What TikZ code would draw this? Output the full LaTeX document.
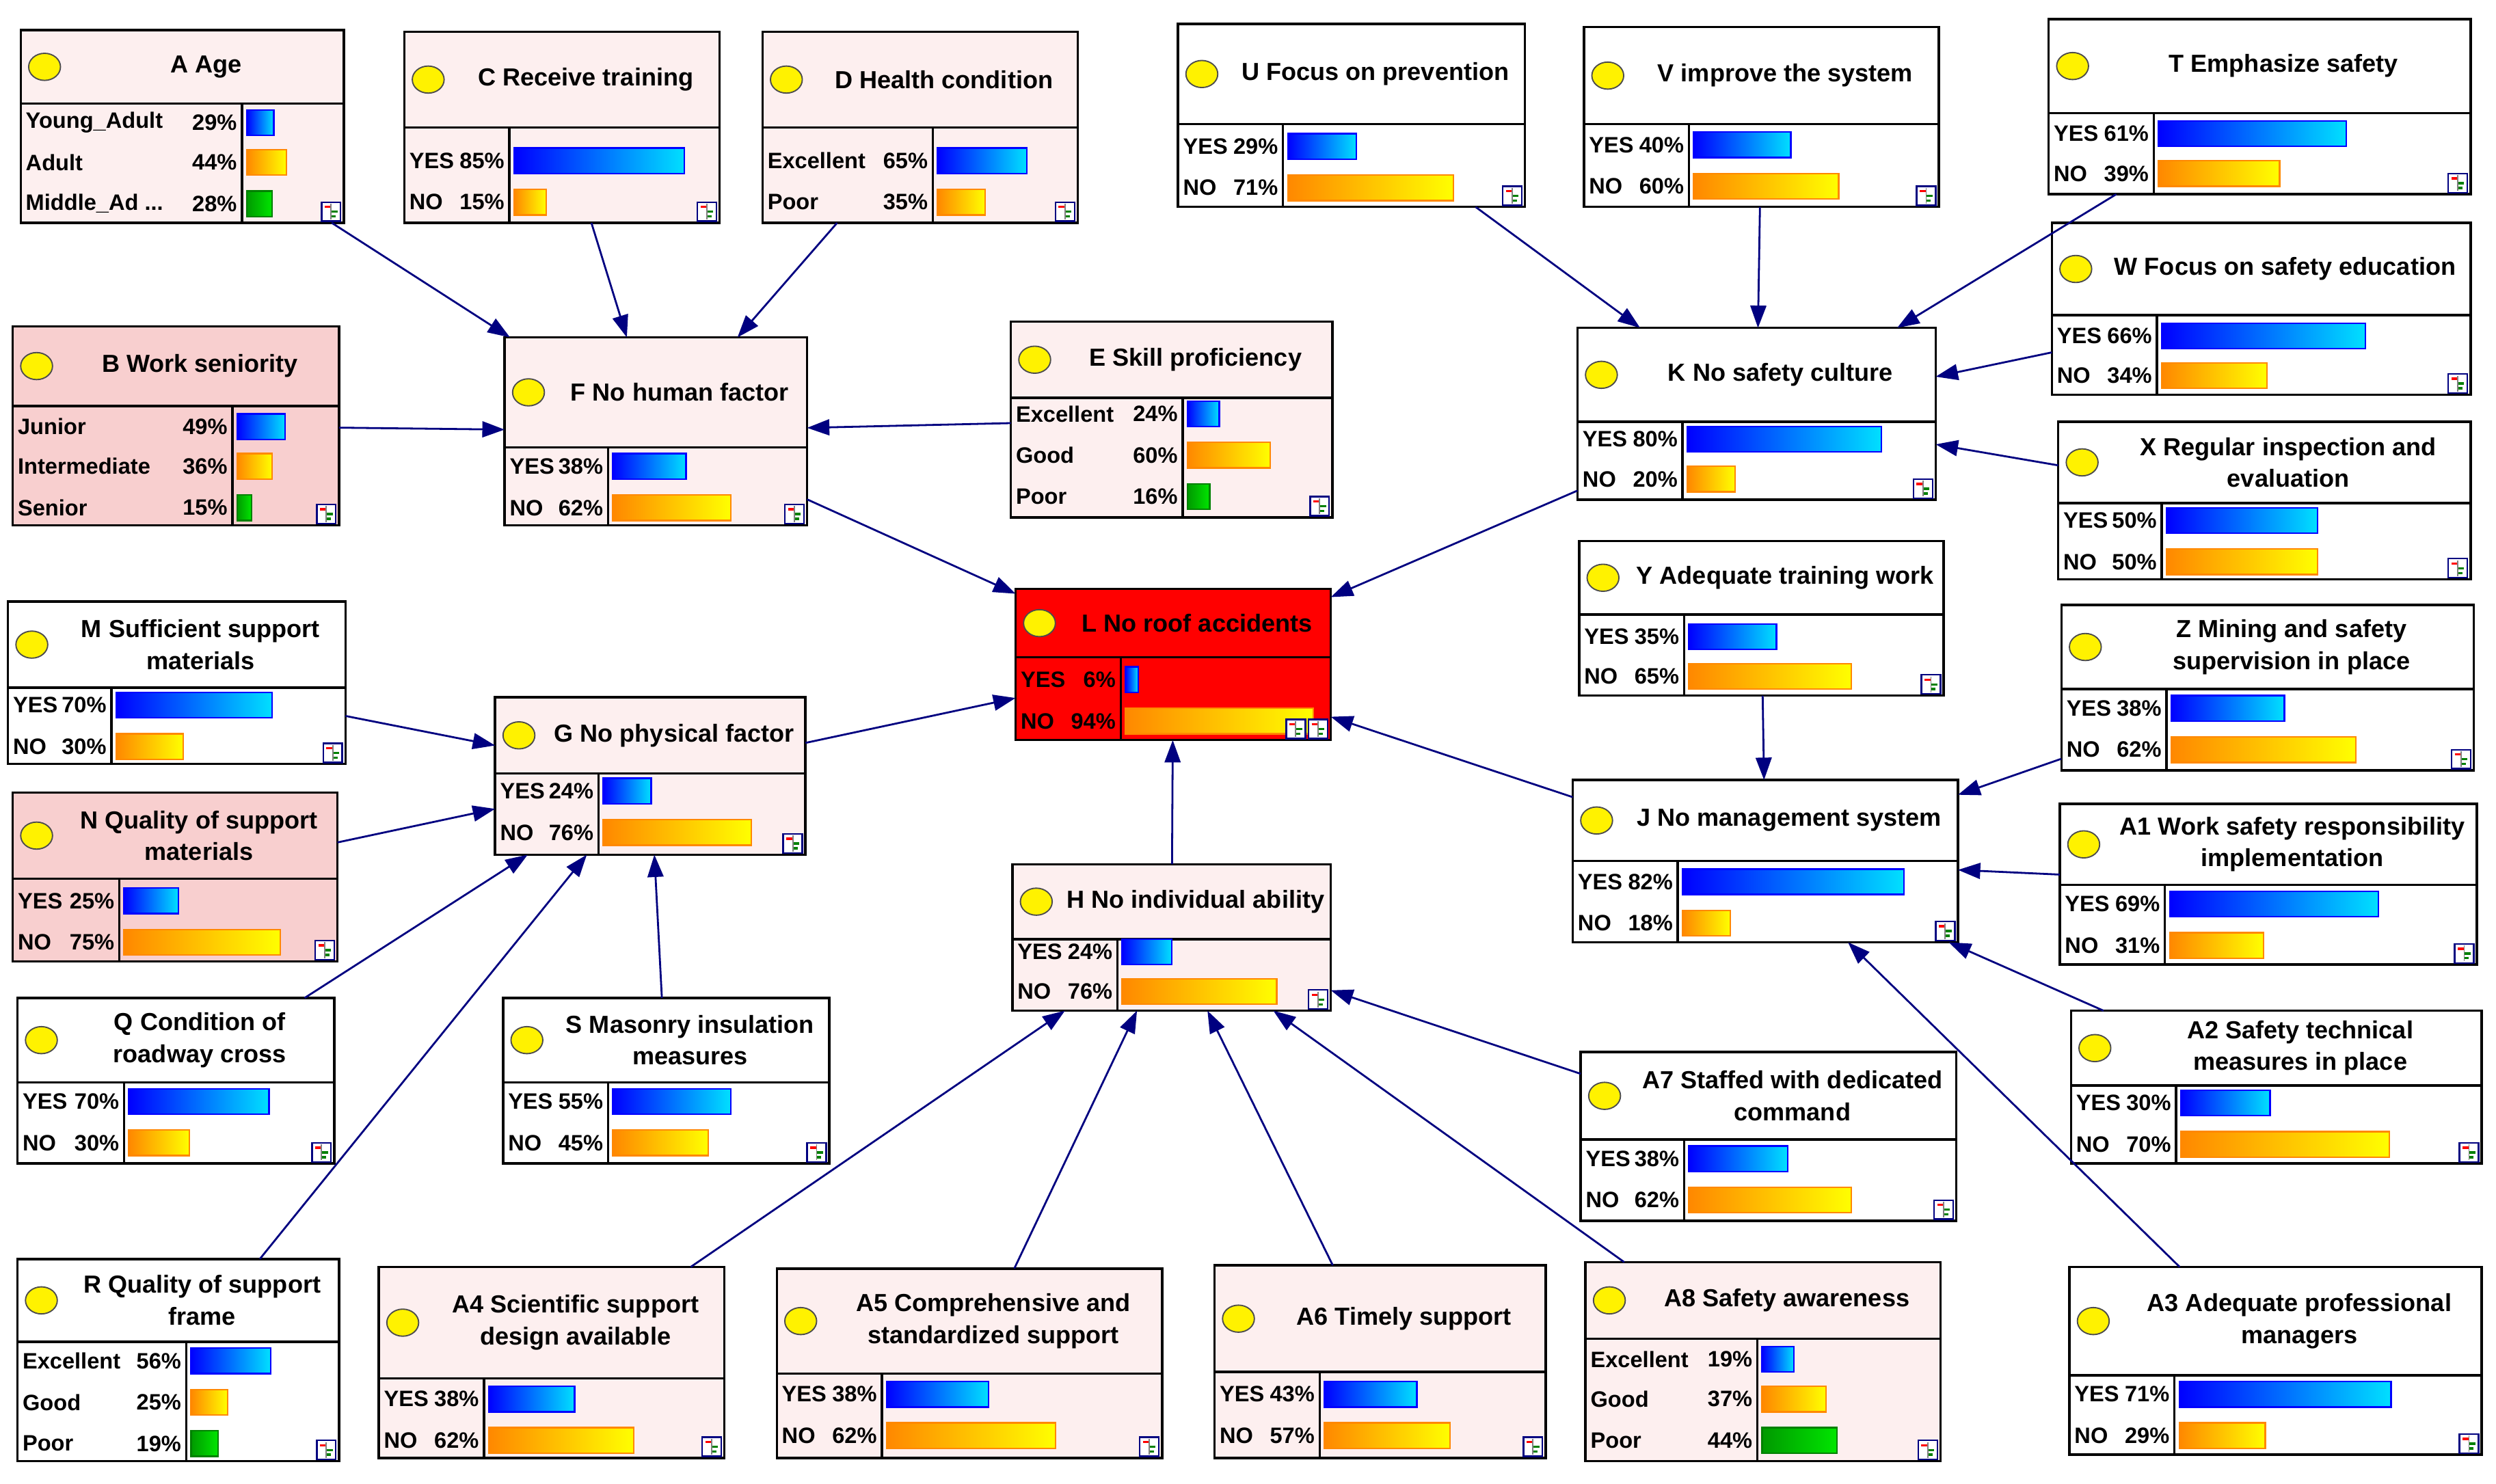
\documentclass[tikz,border=0pt]{standalone}
\usepackage{fontspec}
\setmainfont{Liberation Sans}
\usetikzlibrary{arrows.meta,shapes.geometric}
\definecolor{pinkbg}{HTML}{FDEFEF}
\definecolor{pinkdk}{HTML}{F8CFCF}
\definecolor{navy}{HTML}{000080}
\definecolor{cyanb}{HTML}{00E0FF}
\definecolor{orng}{HTML}{FF8800}
\tikzset{
 box/.style={draw=black,line width=1.5pt,inner sep=0,outer sep=0},
 circ/.style={draw=black!70,fill=yellow,ellipse,minimum width=20pt,minimum height=17pt,inner sep=0,line width=0.8pt},
 ttl/.style={font=\fontsize{15.5}{20}\selectfont\bfseries,align=center,inner sep=0},
 rl/.style={font=\fontsize{14}{17}\selectfont\bfseries,inner sep=0},
 bb/.style={draw=blue,line width=1pt,left color=blue,right color=cyanb},
 bo/.style={draw=orng,line width=1pt,left color=orng,right color=yellow},
 bg/.style={draw=green!50!black,line width=1pt,left color=green!60!black,right color=green!90!black},
 edge/.style={draw=navy,line width=1.2pt,-{Triangle[length=14pt,width=10pt]}},
}
\newcommand\bnbox[8]{%
 \node[box,fill=#8,minimum width={(#4-#2)*1pt},minimum height={(#5-#3)*1pt},anchor=north west] (#1) at (#2,#3) {};
 \draw[line width=1.5pt] (#2,#6) -- (#4,#6);
 \node[circ] at ({#2+15},{(#3+#6)/2}) {};
 \node[ttl] at ({(#2+30+#4)/2},{(#3+#6)/2}) {#7};
 \bnicon{#4}{#5}%
}
\newcommand\bnicon[2]{%
 \draw[navy,fill=white,line width=1pt] ({#1-14},{#2-13}) rectangle ({#1-2},{#2-1});
 \draw[red,line width=1.5pt] ({#1-12},{#2-10}) -- ({#1-8},{#2-10});
 \draw[green!50!black,line width=1.5pt] ({#1-8},{#2-7}) -- ({#1-4},{#2-7}) ({#1-8},{#2-4}) -- ({#1-5},{#2-4});
 \draw[gray,line width=0.8pt] ({#1-8},{#2-12}) -- ({#1-8},{#2-2});
}
\newcommand\bndiv[4]{\draw[line width=1.5pt] ({#1-3},#2) -- ({#1-3},#3);}
\newcommand\bnrow[7]{%
 \node[rl,anchor=west] at ({#1+3},#3) {#4};
 \node[rl,anchor=east] at ({#2-6},#3) {#5};
 \draw[#7] (#2,{#3-8}) rectangle ++(#6,16);
}
\begin{document}
\begin{tikzpicture}[x=1pt,y=-1pt]
\useasboundingbox[fill=white] (0,0) rectangle (1568,932);
% A
\bnbox{A}{13}{19}{216}{140}{65}{A Age}{pinkbg}
\bndiv{155}{65}{140}{}
\bnrow{13}{155}{77}{Young\_Adult}{29\%}{17}{bb}
\bnrow{13}{155}{102}{Adult}{44\%}{25}{bo}
\bnrow{13}{155}{128}{Middle\_Ad ...}{28\%}{16}{bg}
% C
\bnbox{C}{254}{20}{452}{140}{80}{C Receive training}{pinkbg}
\bndiv{323}{80}{140}{}
\bnrow{254}{323}{101}{YES}{85\%}{107}{bb}
\bnrow{254}{323}{127}{NO}{15\%}{20}{bo}
% D
\bnbox{D}{479}{20}{677}{140}{80}{D Health condition}{pinkbg}
\bndiv{589}{80}{140}{}
\bnrow{479}{589}{101}{Excellent}{65\%}{56}{bb}
\bnrow{479}{589}{127}{Poor}{35\%}{30}{bo}
% U
\bnbox{U}{740}{15}{958}{130}{78}{U Focus on prevention}{white}
\bndiv{809}{78}{130}{}
\bnrow{740}{809}{92}{YES}{29\%}{43}{bb}
\bnrow{740}{809}{118}{NO}{71\%}{104}{bo}
% V
\bnbox{V}{995}{17}{1218}{130}{78}{V improve the system}{white}
\bndiv{1064}{78}{130}{}
\bnrow{995}{1064}{91}{YES}{40\%}{61}{bb}
\bnrow{995}{1064}{117}{NO}{60\%}{91}{bo}
% T
\bnbox{T}{1287}{12}{1552}{122}{71}{T Emphasize safety}{white}
\bndiv{1356}{71}{122}{}
\bnrow{1287}{1356}{84}{YES}{61\%}{118}{bb}
\bnrow{1287}{1356}{109}{NO}{39\%}{76}{bo}
% B
\bnbox{B}{8}{205}{213}{330}{255}{B Work seniority}{pinkdk}
\bndiv{149}{255}{330}{}
\bnrow{8}{149}{268}{Junior}{49\%}{30}{bb}
\bnrow{8}{149}{293}{Intermediate}{36\%}{22}{bo}
\bnrow{8}{149}{319}{Senior}{15\%}{9}{bg}
% F
\bnbox{F}{317}{212}{507}{330}{281}{F No human factor}{pinkbg}
\bndiv{385}{281}{330}{}
\bnrow{317}{385}{293}{YES}{38\%}{46}{bb}
\bnrow{317}{385}{319}{NO}{62\%}{74}{bo}
% E
\bnbox{E}{635}{202}{837}{325}{250}{E Skill proficiency}{pinkbg}
\bndiv{746}{250}{325}{}
\bnrow{635}{746}{260}{Excellent}{24\%}{20}{bb}
\bnrow{635}{746}{286}{Good}{60\%}{52}{bo}
\bnrow{635}{746}{312}{Poor}{16\%}{14}{bg}
% K
\bnbox{K}{991}{206}{1216}{314}{265}{K No safety culture}{white}
\bndiv{1060}{265}{314}{}
\bnrow{991}{1060}{276}{YES}{80\%}{122}{bb}
\bnrow{991}{1060}{301}{NO}{20\%}{30}{bo}
% W
\bnbox{W}{1289}{140}{1552}{248}{198}{W Focus on safety education}{white}
\bndiv{1358}{198}{248}{}
\bnrow{1289}{1358}{211}{YES}{66\%}{128}{bb}
\bnrow{1289}{1358}{236}{NO}{34\%}{66}{bo}
% X
\bnbox{X}{1293}{265}{1552}{364}{316}{X Regular inspection and\\evaluation}{white}
\bndiv{1361}{316}{364}{}
\bnrow{1293}{1361}{327}{YES}{50\%}{95}{bb}
\bnrow{1293}{1361}{353}{NO}{50\%}{95}{bo}
% M
\bnbox{M}{5}{378}{217}{480}{432}{M Sufficient support\\materials}{white}
\bndiv{73}{432}{480}{}
\bnrow{5}{73}{443}{YES}{70\%}{98}{bb}
\bnrow{5}{73}{469}{NO}{30\%}{42}{bo}
% L
\bnbox{L}{638}{370}{836}{465}{413}{L No roof accidents}{red}
\bndiv{707}{413}{465}{}
\bnrow{638}{707}{427}{YES}{6\%}{8}{bb}
\bnrow{638}{707}{453}{NO}{94\%}{118}{bo}
\bnicon{836}{465}\bnicon{822}{465}
% Y
\bnbox{Y}{992}{340}{1221}{437}{386}{Y Adequate training work}{white}
\bndiv{1061}{386}{437}{}
\bnrow{992}{1061}{400}{YES}{35\%}{55}{bb}
\bnrow{992}{1061}{425}{NO}{65\%}{102}{bo}
% Z
\bnbox{Z}{1295}{380}{1554}{484}{433}{Z Mining and safety\\supervision in place}{white}
\bndiv{1364}{433}{484}{}
\bnrow{1295}{1364}{445}{YES}{38\%}{71}{bb}
\bnrow{1295}{1364}{471}{NO}{62\%}{116}{bo}
% G
\bnbox{G}{311}{438}{506}{537}{486}{G No physical factor}{pinkbg}
\bndiv{379}{486}{537}{}
\bnrow{311}{379}{497}{YES}{24\%}{30}{bb}
\bnrow{311}{379}{523}{NO}{76\%}{93}{bo}
% N
\bnbox{N}{8}{498}{212}{604}{552}{N Quality of support\\materials}{pinkdk}
\bndiv{78}{552}{604}{}
\bnrow{8}{78}{566}{YES}{25\%}{34}{bb}
\bnrow{8}{78}{592}{NO}{75\%}{98}{bo}
% J
\bnbox{J}{988}{490}{1230}{592}{541}{J No management system}{white}
\bndiv{1057}{541}{592}{}
\bnrow{988}{1057}{554}{YES}{82\%}{139}{bb}
\bnrow{988}{1057}{580}{NO}{18\%}{30}{bo}
% A1
\bnbox{A1}{1294}{505}{1556}{606}{556}{A1 Work safety responsibility\\implementation}{white}
\bndiv{1363}{556}{606}{}
\bnrow{1294}{1363}{568}{YES}{69\%}{131}{bb}
\bnrow{1294}{1363}{594}{NO}{31\%}{59}{bo}
% H
\bnbox{H}{636}{543}{836}{635}{590}{H No individual ability}{pinkbg}
\bndiv{705}{590}{635}{}
\bnrow{636}{705}{598}{YES}{24\%}{31}{bb}
\bnrow{636}{705}{623}{NO}{76\%}{97}{bo}
% Q
\bnbox{Q}{11}{627}{210}{731}{680}{Q Condition of\\roadway cross}{white}
\bndiv{81}{680}{731}{}
\bnrow{11}{81}{692}{YES}{70\%}{88}{bb}
\bnrow{11}{81}{718}{NO}{30\%}{38}{bo}
% S
\bnbox{S}{316}{627}{521}{731}{680}{S Masonry insulation\\measures}{white}
\bndiv{385}{680}{731}{}
\bnrow{316}{385}{692}{YES}{55\%}{74}{bb}
\bnrow{316}{385}{718}{NO}{45\%}{60}{bo}
% A7
\bnbox{A7}{993}{661}{1229}{767}{716}{A7 Staffed with dedicated\\command}{white}
\bndiv{1061}{716}{767}{}
\bnrow{993}{1061}{728}{YES}{38\%}{62}{bb}
\bnrow{993}{1061}{754}{NO}{62\%}{102}{bo}
% A2
\bnbox{A2}{1301}{635}{1559}{731}{682}{A2 Safety technical\\measures in place}{white}
\bndiv{1370}{682}{731}{}
\bnrow{1301}{1370}{693}{YES}{30\%}{56}{bb}
\bnrow{1301}{1370}{719}{NO}{70\%}{131}{bo}
% R
\bnbox{R}{11}{791}{213}{918}{843}{R Quality of support\\frame}{white}
\bndiv{120}{843}{918}{}
\bnrow{11}{120}{855}{Excellent}{56\%}{50}{bb}
\bnrow{11}{120}{881}{Good}{25\%}{23}{bo}
\bnrow{11}{120}{907}{Poor}{19\%}{17}{bg}
% A4
\bnbox{A4}{238}{796}{455}{916}{866}{A4 Scientific support\\design available}{pinkbg}
\bndiv{307}{866}{916}{}
\bnrow{238}{307}{879}{YES}{38\%}{54}{bb}
\bnrow{238}{307}{905}{NO}{62\%}{91}{bo}
% A5
\bnbox{A5}{488}{797}{730}{916}{863}{A5 Comprehensive and\\standardized support}{pinkbg}
\bndiv{557}{863}{916}{}
\bnrow{488}{557}{876}{YES}{38\%}{64}{bb}
\bnrow{488}{557}{902}{NO}{62\%}{106}{bo}
% A6
\bnbox{A6}{763}{795}{971}{916}{862}{A6 Timely support}{pinkbg}
\bndiv{832}{862}{916}{}
\bnrow{763}{832}{876}{YES}{43\%}{58}{bb}
\bnrow{763}{832}{902}{NO}{57\%}{79}{bo}
% A8
\bnbox{A8}{996}{793}{1219}{918}{841}{A8 Safety awareness}{pinkbg}
\bndiv{1107}{841}{918}{}
\bnrow{996}{1107}{854}{Excellent}{19\%}{20}{bb}
\bnrow{996}{1107}{879}{Good}{37\%}{40}{bo}
\bnrow{996}{1107}{905}{Poor}{44\%}{47}{bg}
% A3
\bnbox{A3}{1300}{796}{1559}{914}{864}{A3 Adequate professional\\managers}{white}
\bndiv{1369}{864}{914}{}
\bnrow{1300}{1369}{876}{YES}{71\%}{133}{bb}
\bnrow{1300}{1369}{902}{NO}{29\%}{54}{bo}
% edges
\foreach \s/\t in {A/F,C/F,D/F,B/F,E/F,F/L,K/L,M/G,N/G,Q/G,R/G,S/G,G/L,H/L,J/L,U/K,V/K,T/K,W/K,X/K,Y/J,Z/J,A1/J,A2/J,A3/J,A7/H,A4/H,A5/H,A6/H,A8/H}
  \draw[edge] (\s) -- (\t);
\end{tikzpicture}
\end{document}
